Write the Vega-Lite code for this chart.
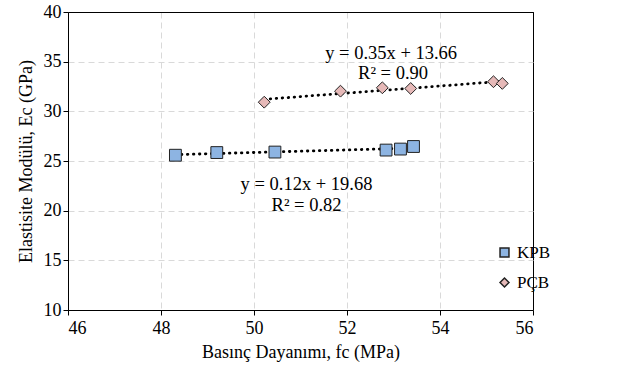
{
  "$schema": "https://vega.github.io/schema/vega-lite/v6.json",
  "width": 465,
  "height": 298,
  "autosize": {"type": "none"},
  "padding": {"left": 68, "top": 12, "right": 87, "bottom": 58},
  "background": "white",
  "config": {
    "font": "Liberation Serif",
    "view": {"stroke": "black", "strokeWidth": 1},
    "axis": {
      "labelFont": "Liberation Serif",
      "titleFont": "Liberation Serif",
      "labelFontSize": 18,
      "titleFontSize": 18,
      "titleFontWeight": "normal",
      "labelColor": "#000",
      "titleColor": "#000",
      "domainColor": "#000",
      "tickColor": "#000",
      "gridColor": {"condition": {"test": "datum.value === 56 || datum.value === 40", "value": "#000"}, "value": "#d9d9d9"},
      "gridDash": {"condition": {"test": "datum.value === 56 || datum.value === 40", "value": []}, "value": [6, 4]},
      "gridWidth": 1
    }
  },
  "datasets": {
    "pts": [
      {"fc": 48.31, "ec": 25.58, "grup": "KPB"},
      {"fc": 49.2, "ec": 25.85, "grup": "KPB"},
      {"fc": 50.45, "ec": 25.9, "grup": "KPB"},
      {"fc": 52.84, "ec": 26.1, "grup": "KPB"},
      {"fc": 53.15, "ec": 26.2, "grup": "KPB"},
      {"fc": 53.43, "ec": 26.46, "grup": "KPB"},
      {"fc": 50.22, "ec": 30.92, "grup": "PÇB"},
      {"fc": 51.86, "ec": 32.03, "grup": "PÇB"},
      {"fc": 52.76, "ec": 32.37, "grup": "PÇB"},
      {"fc": 53.37, "ec": 32.3, "grup": "PÇB"},
      {"fc": 55.15, "ec": 32.98, "grup": "PÇB"},
      {"fc": 55.34, "ec": 32.81, "grup": "PÇB"}
    ],
    "labels": [
      {"fc": 52.95, "ec": 35.9, "t": "y = 0.35x + 13.66"},
      {"fc": 52.99, "ec": 33.9, "t": "R² = 0.90"},
      {"fc": 51.13, "ec": 22.7, "t": "y = 0.12x + 19.68"},
      {"fc": 51.13, "ec": 20.6, "t": "R² = 0.82"}
    ]
  },
  "layer": [
    {
      "data": {"name": "pts"},
      "transform": [{"regression": "ec", "on": "fc", "groupby": ["grup"]}],
      "mark": {"type": "line", "color": "#000", "strokeWidth": 2.8, "strokeDash": [0.5, 5.5], "strokeCap": "round"},
      "encoding": {
        "x": {"field": "fc", "type": "quantitative"},
        "y": {"field": "ec", "type": "quantitative"},
        "detail": {"field": "grup"}
      }
    },
    {
      "data": {"name": "pts"},
      "mark": {"type": "point", "filled": true, "stroke": "#222", "strokeWidth": 1, "opacity": 1, "size": 140},
      "encoding": {
        "x": {
          "field": "fc", "type": "quantitative",
          "scale": {"domain": [46, 56], "nice": false, "zero": false},
          "axis": {"values": [46, 48, 50, 52, 54, 56], "title": "Basınç Dayanımı, fc (MPa)", "titlePadding": 6, "labelPadding": 4}
        },
        "y": {
          "field": "ec", "type": "quantitative",
          "scale": {"domain": [10, 40], "nice": false, "zero": false},
          "axis": {"values": [10, 15, 20, 25, 30, 35, 40], "title": "Elastisite Modülü, Ec (GPa)", "titlePadding": 8}
        },
        "shape": {
          "field": "grup", "type": "nominal",
          "scale": {"domain": ["KPB", "PÇB"], "range": ["square", "diamond"]},
          "legend": {
            "title": null, "orient": "none", "legendX": 428, "legendY": 232,
            "labelFontSize": 17, "labelFont": "Liberation Serif", "labelColor": "#000",
            "symbolSize": 80, "rowPadding": 12,
            "encode": {"symbols": {"update": {"stroke": {"value": "#222"}, "strokeWidth": {"value": 1}}}}
          }
        },
        "fill": {
          "field": "grup", "type": "nominal",
          "scale": {"domain": ["KPB", "PÇB"], "range": ["#8DB4E2", "#E6B9B8"]},
          "legend": null
        }
      }
    },
    {
      "data": {"name": "labels"},
      "mark": {"type": "text", "fontSize": 18.5, "font": "Liberation Serif", "color": "#000", "align": "center", "baseline": "middle"},
      "encoding": {
        "x": {"field": "fc", "type": "quantitative"},
        "y": {"field": "ec", "type": "quantitative"},
        "text": {"field": "t"}
      }
    }
  ]
}
